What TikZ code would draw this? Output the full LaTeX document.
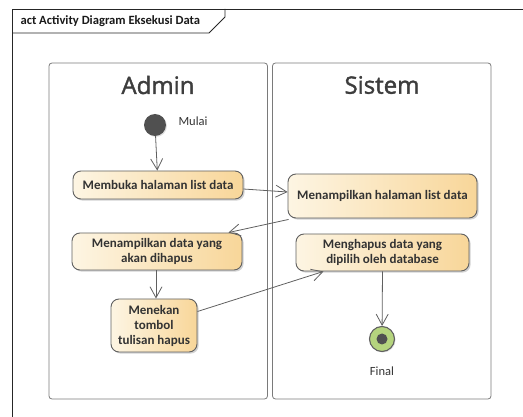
\documentclass[tikz,border=0pt]{standalone}
\usepackage{fontspec}
\setmainfont{Carlito}
\newfontfamily\headfont[FakeBold=1.6]{Open Sans}
\usetikzlibrary{arrows.meta,shadows}
\definecolor{boxl}{HTML}{FDF5E3}
\definecolor{boxr}{HTML}{F8D699}
\definecolor{linegray}{HTML}{606060}
\definecolor{lanegray}{HTML}{7A7A7A}
\definecolor{txt}{HTML}{333333}
\definecolor{startgray}{HTML}{505050}
\definecolor{finalgreen}{HTML}{B5D47E}
\begin{document}
\begin{tikzpicture}[x=1pt,y=-1pt,
  act/.style={draw=linegray, line width=0.9pt, rounded corners=8pt,
    left color=boxl, right color=boxr, text=txt, align=center, inner sep=0pt,
    font=\bfseries\fontsize{13}{15}\selectfont,
    drop shadow={shadow xshift=1.6pt, shadow yshift=-1.6pt, fill=black!35, opacity=0.5}},
  flow/.style={draw=linegray, line width=0.8pt, -{Straight Barb[length=11pt,width=12pt,line width=0.8pt]}},
  lane/.style={draw=lanegray, line width=0.8pt, rounded corners=3pt},
  lanehead/.style={text=txt!95, font=\headfont\fontsize{24}{27}\selectfont},
  lbl/.style={text=txt, font=\fontsize{12.5}{14}\selectfont}]
\useasboundingbox (0,0) rectangle (523,417);
% frame
\draw[line width=0.8pt, black!85] (12,417) -- (12,9) -- (523,9);
\draw[line width=0.8pt, black!85] (12,33) -- (209,33) -- (225,17) -- (225,9);
\node[anchor=west, text=black!90, font=\bfseries\fontsize{12.6}{14}\selectfont] (title) at (17,21) {act Activity Diagram Eksekusi Data};
% lanes
\draw[lane] (49,63) rectangle (267.5,399);
\draw[lane] (272.5,63) rectangle (491,399);
\node[lanehead] (hadmin) at (158,85) {Admin};
\node[lanehead] (hsistem) at (382,85) {Sistem};
% start
\node[circle, fill=startgray, minimum size=22pt, inner sep=0pt,
  drop shadow={shadow xshift=1pt, shadow yshift=-1pt, fill=black!30, opacity=0.4}] (start) at (155,125) {};
\node[lbl, anchor=west] (mulai) at (175,121) {Mulai};
% actions
\node[act, minimum width=170pt, minimum height=28pt] (b1) at (158,185) {Membuka halaman list data};
\node[act, minimum width=189pt, minimum height=44pt] (b2) at (382.5,196) {Menampilkan halaman list data};
\node[act, minimum width=170pt, minimum height=37pt] (b3) at (157,251.5) {Menampilkan data yang\\akan dihapus};
\node[act, minimum width=173pt, minimum height=37pt] (b4) at (382.5,252.5) {Menghapus data yang\\dipilih oleh database};
\node[act, minimum width=86pt, minimum height=53pt] (b5) at (154,325.5) {Menekan\\tombol\\tulisan hapus};
% final
\node[circle, draw=linegray, line width=1.1pt, fill=finalgreen, minimum size=25pt, inner sep=0pt,
  drop shadow={shadow xshift=1pt, shadow yshift=-1pt, fill=black!30, opacity=0.4}] (final) at (382,339) {};
\node[circle, fill=startgray, minimum size=11pt, inner sep=0pt] (finaldot) at (final.center) {};
\node[lbl] (finallbl) at (382,371) {Final};
% flows
\draw[flow] (start) -- (b1);
\draw[flow] ([yshift=-4pt]b1.east) -- ([yshift=4pt]b2.west);
\draw[flow] ([xshift=1pt,yshift=-1pt]b2.south west) -- ([xshift=-14pt]b3.north east);
\draw[flow] ([xshift=-1pt]b3.south) -- ([xshift=2pt]b5.north);
\draw[flow] ([yshift=14pt]b5.east) -- ([xshift=-59pt]b4.south);
\draw[flow] (b4.south) -- (final);
\end{tikzpicture}
\end{document}
